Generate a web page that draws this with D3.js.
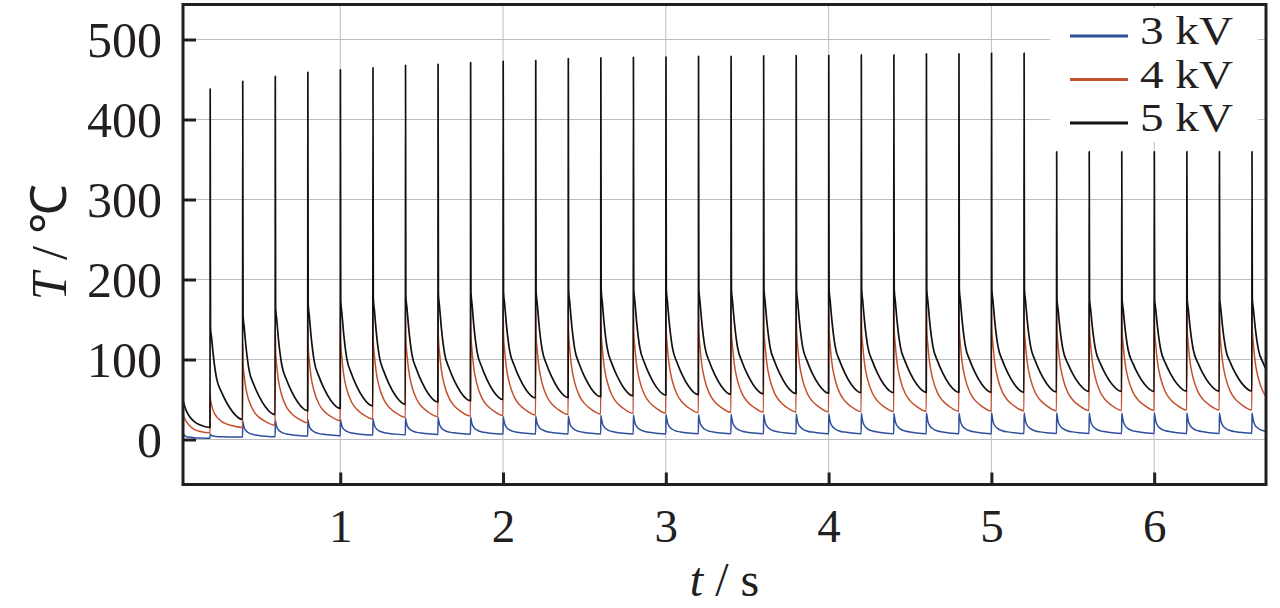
<!DOCTYPE html>
<html><head><meta charset="utf-8">
<script src="https://cdn.jsdelivr.net/npm/d3@7"></script>
<style>html,body{margin:0;padding:0;background:#fff;}svg{display:block;}
svg text{font-family:"Liberation Serif","Times New Roman",Times,serif;}</style>
</head><body>
<svg id="chart" width="1280" height="608"></svg>
<script>
// ---- data ----
const pulseTimes = [0.2,0.4,0.6,0.8,1.0,1.2,1.4,1.6,1.8,2.0,2.2,2.4,2.6,2.8,3.0,3.2,3.4,3.6,3.8,4.0,4.2,4.4,4.6,4.8,5.0,5.2,5.4,5.6,5.8,6.0,6.2,6.4,6.6];
const xTicks = [1,2,3,4,5,6];
const yTicks = [0,100,200,300,400,500];
const seriesNames = ["3 kV","4 kV","5 kV"];
const seriesColors = ["#2f4e9c","#c5502d","#111111"];
// time offsets after each pulse at which the decay is sampled
const decayDt = [0.003,0.01,0.02,0.04,0.07,0.1,0.14,0.2];
// fraction of (post - end) remaining at those offsets, read from a typical cycle
const decay3 = [1,0.65,0.44,0.26,0.14,0.09,0.04,0];
const decay4 = [1,0.8,0.6,0.39,0.22,0.13,0.06,0];
const decay5 = [1,0.88,0.7,0.45,0.3,0.19,0.08,0];
// segment before the first pulse
const initT = [0.034,0.05,0.07,0.1,0.14,0.2];
const init3 = [7.7,4,3,2.3,1.8,1.5];
const init4 = [31,24,18,13,10,8.5];
const init5 = [49,38,30,23,18,15];
// 3 kV per pulse
const peak3 = [7,23,24,25,25,26,26.5,27.5,28,28.5,29,29.5,30,30.5,31,31,31.5,31.5,32,32,32.5,32.5,33,33,33,33,33,33,33,33,33,33,33];
const post3 = [6,21,22,23,23,24,24.5,25.5,26,26.5,27,27.5,28,28.5,29,29,29.5,29.5,30,30,30.5,30.5,31,31,31,31,31,31,31,31,31,31,31];
const end3 = [3,3.5,4.4,4.8,5.6,6,6.4,6.6,6.8,6.9,7,7,7,7,7.1,7.1,7.1,7.2,7.2,7.2,7.3,7.3,7.3,7.3,7.4,7.4,7.4,7.5,7.5,7.6,7.6,7.7,7.7];
// 4 kV per pulse
const peak4 = [58,120,140,150,155,158,160,162,163,164,165,166,167,168,168,169,169,170,170,170,170,171,171,171,171,171,171,171,171,171,171,171,171];
const post4 = [50,95,110,117,121,124,126,128,130,131,132,133,134,135,135,136,136,137,137,137,137,138,138,138,138,138,138,138,138,138,138,138,138];
const end4 = [15,18,21,23.5,25.6,27.7,28.5,29.3,30,30.6,31.2,32,32.7,33.2,33.6,34,34.3,34.5,34.7,34.8,35,35.2,35.4,35.6,35.8,36,36.2,36.4,36.6,36.8,37,37,37.2];
// 5 kV per pulse
const peak5 = [438,448,454,459,462,465,468,469,471,473,474,476,477,478,478,479,479,480,480,480,481,481,482,482,483,483,360,360,360,360,360,360,360];
const post5 = [140,155,165,170,174,177,180,182,184,185,186,187,187,188,188,188,188,188,188,188,188,188,188,188,188,188,176,176,176,176,176,176,176];
const end5 = [25,31,36,39,42,44,47,48.5,50,52,52.5,53.5,54.5,55.5,56,56.5,57,57.5,58,58.5,58.5,59,59,59,59,59.5,60,60,60,60.5,60.5,60.6,61];

// ---- build point lists ----
function build(initV, peak, post, end, decay){
  const pts = initT.map((t,i)=>({t, v:initV[i]}));
  pulseTimes.forEach((tk,k)=>{
    const prev = k===0 ? initV[initV.length-1] : end[k-1];
    pts.push({t:tk, v:prev});
    pts.push({t:tk+0.001, v:peak[k]});
    decayDt.forEach((d,i)=>{
      pts.push({t:tk+d - (i===decayDt.length-1?0.0005:0), v:end[k] + (post[k]-end[k])*decay[i]});
    });
  });
  return pts;
}
const series = [
  build(init3, peak3, post3, end3, decay3),
  build(init4, peak4, post4, end4, decay4),
  build(init5, peak5, post5, end5, decay5)
];

// ---- layout ----
const svg = d3.select("#chart");
const L=183, R=1266, T=4.5, B=484.5;
const x = d3.scaleLinear().domain([0.034,6.687]).range([L,R]);
const y = d3.scaleLinear().domain([-56.25,543.75]).range([B,T]);
const ink = "#231f20";

svg.append("defs").append("clipPath").attr("id","clip")
  .append("rect").attr("x",L).attr("y",T).attr("width",R-L).attr("height",B-T);

// grid
const grid = svg.append("g");
grid.selectAll("line.gx").data(xTicks).join("line")
  .attr("x1",d=>x(d)).attr("x2",d=>x(d)).attr("y1",T).attr("y2",B)
  .attr("stroke","#bdbdbd").attr("stroke-width",1);
grid.selectAll("line.gy").data(yTicks).join("line")
  .attr("x1",L).attr("x2",R).attr("y1",d=>y(d)).attr("y2",d=>y(d))
  .attr("stroke","#bdbdbd").attr("stroke-width",1);

// lines
const line = d3.line().x(d=>x(d.t)).y(d=>y(d.v)).curve(d3.curveMonotoneX);
const lg = svg.append("g").attr("clip-path","url(#clip)");
series.forEach((s,i)=>{
  lg.append("path").attr("d",line(s)).attr("fill","none")
    .attr("stroke",seriesColors[i]).attr("stroke-width", i===2?1.7:1.5)
    .attr("stroke-linejoin","round");
});

// legend
const leg = svg.append("g");
leg.append("rect").attr("x",1050).attr("y",8).attr("width",208).attr("height",134).attr("fill","#fff");
seriesNames.forEach((n,i)=>{
  const yy = 36 + i*43.5;
  leg.append("line").attr("x1",1070).attr("x2",1128).attr("y1",yy).attr("y2",yy)
    .attr("stroke",seriesColors[i]).attr("stroke-width",3);
  leg.append("text").attr("x",1140).attr("y",yy+8)
    .style("font-size","41px").attr("fill",ink).attr("textLength",93).attr("lengthAdjust","spacingAndGlyphs").text(n);
});

// frame
svg.append("rect").attr("x",L).attr("y",T).attr("width",R-L).attr("height",B-T)
  .attr("fill","none").attr("stroke",ink).attr("stroke-width",3);

// y ticks
const yAxis = d3.axisLeft(y).tickValues(yTicks).tickSize(-13).tickPadding(21).tickFormat(d3.format("d"));
const ya = svg.append("g").attr("transform",`translate(${L},0)`).call(yAxis);
ya.select(".domain").remove();
ya.attr("font-family",null).attr("font-size",null);
ya.selectAll(".tick line").attr("stroke",ink).attr("stroke-width",3);
ya.selectAll(".tick text").style("font-size","50px").attr("fill",ink).attr("dy","0.33em");

// x ticks
const xAxis = d3.axisBottom(x).tickValues(xTicks).tickSize(-12).tickPadding(24).tickFormat(d3.format("d"));
const xa = svg.append("g").attr("transform",`translate(0,${B})`).call(xAxis);
xa.select(".domain").remove();
xa.attr("font-family",null).attr("font-size",null);
xa.selectAll(".tick line").attr("stroke",ink).attr("stroke-width",3);
xa.selectAll(".tick text").style("font-size","47px").attr("fill",ink);

// axis titles
const xt = svg.append("text").attr("x",(L+R)/2).attr("y",596).attr("text-anchor","middle")
  .style("font-size","48px").attr("fill",ink);
xt.append("tspan").attr("font-style","italic").text("t");
xt.append("tspan").text(" / s");
const ytt = svg.append("text").attr("transform","translate(66,242) rotate(-90)").attr("text-anchor","middle")
  .style("font-size","50px").attr("fill",ink);
ytt.append("tspan").attr("font-style","italic").text("T");
ytt.append("tspan").text(" / ℃");
</script>
</body></html>
